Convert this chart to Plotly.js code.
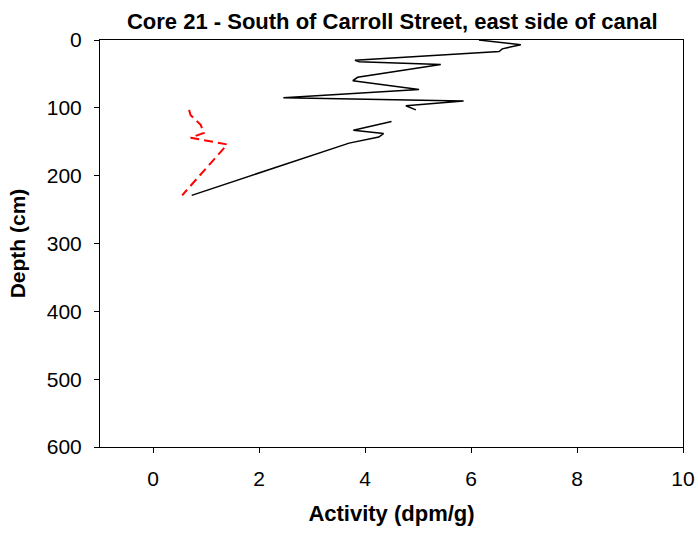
<!DOCTYPE html>
<html>
<head>
<meta charset="utf-8">
<script src="https://cdn.plot.ly/plotly-3.0.1.min.js"></script>
<style>html,body{margin:0;padding:0;background:#fff;}#chart{width:698px;height:533px;}</style>
</head>
<body>
<div id="chart"></div>
<script>
// Black series (solid)
var blackActivity = [6.15, 6.94, 6.59, 6.53, 3.81, 3.89, 5.43, 3.86, 3.77, 5.02, 2.46, 5.86, 4.77, 4.96, null, 4.50, 3.78, 4.35, 4.26, 3.70, 0.73];
var blackDepth    = [0,    7,    13,   17,   30,   32,   36,   55,   60,   73,   85,   90,   97,   103,  null, 120,  133,  138,  143,  152,  229];
// Red series (dashed)
var redActivity = [0.68, 0.71, 0.90, 0.96, 0.71, 1.40, 0.55];
var redDepth    = [103,  111,  125,  137,  144,  154,  229];

var xTicks = [0, 2, 4, 6, 8, 10];
var yTicks = [0, 100, 200, 300, 400, 500, 600];

var traces = [
  {x: blackActivity, y: blackDepth, mode: 'lines', type: 'scatter',
   line: {color: '#000000', width: 1.5}, connectgaps: false, hoverinfo: 'skip'},
  {x: redActivity, y: redDepth, mode: 'lines', type: 'scatter',
   line: {color: '#ff0000', width: 2, dash: '9px,5px'}, hoverinfo: 'skip'}
];

var fam = 'Liberation Sans, Arial, sans-serif';

var layout = {
  width: 698, height: 533,
  margin: {l: 100, r: 15, t: 40, b: 86, pad: 0},
  paper_bgcolor: '#fff', plot_bgcolor: '#fff',
  showlegend: false,
  font: {family: fam, size: 21, color: '#000'},
  title: {text: 'Core 21 - South of Carroll Street, east side of canal',
          font: {family: fam, size: 22, color: '#000', weight: 'bold'},
          x: 0.562, xanchor: 'center', y: 0.96, yanchor: 'middle'},
  xaxis: {
    range: [-1, 10], tickvals: xTicks, ticktext: xTicks.map(String),
    showgrid: false, zeroline: false,
    showline: true, linecolor: '#000', linewidth: 1, mirror: true,
    ticks: 'outside', ticklen: 5, tickcolor: '#000', tickwidth: 1,
    ticklabelstandoff: 8,
    tickfont: {family: fam, size: 21, color: '#000'},
    title: {text: 'Activity (dpm/g)', font: {family: fam, size: 22, color: '#000', weight: 'bold'}, standoff: 16}
  },
  yaxis: {
    range: [600, 0], tickvals: yTicks, ticktext: yTicks.map(String),
    showgrid: false, zeroline: false,
    showline: true, linecolor: '#000', linewidth: 1, mirror: true,
    ticks: 'outside', ticklen: 5, tickcolor: '#000', tickwidth: 1,
    ticklabelstandoff: 8,
    tickfont: {family: fam, size: 21, color: '#000'},
    title: {text: 'Depth (cm)', font: {family: fam, size: 21, color: '#000', weight: 'bold'}, standoff: 15}
  }
};

Plotly.newPlot('chart', traces, layout, {displayModeBar: false, staticPlot: true});
</script>
</body>
</html>
